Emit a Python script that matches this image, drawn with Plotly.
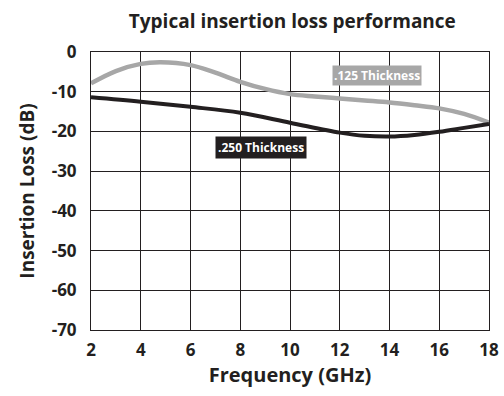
import plotly.graph_objects as go

freq = [2, 3, 4, 4.8, 6, 7, 8, 9, 10, 11, 12, 13, 14, 15, 16, 17, 18]
loss_125 = [-7.9, -4.8, -3.0, -2.6, -3.3, -5.2, -7.5, -9.3, -10.6, -11.2, -11.7, -12.2, -12.7, -13.4, -14.2, -15.6, -17.8]
freq_250 = [2, 4, 6, 8, 10, 12, 13, 14, 15, 16, 17, 18]
loss_250 = [-11.4, -12.5, -13.8, -15.3, -17.8, -20.3, -21.1, -21.3, -20.9, -20.1, -19.1, -18.1]
x_ticks = [2, 4, 6, 8, 10, 12, 14, 16, 18]
y_ticks = [0, -10, -20, -30, -40, -50, -60, -70]

FONT = "Open Sans"
INK = "#231f20"

fig = go.Figure()
fig.add_trace(go.Scatter(x=freq, y=loss_125, mode="lines",
                         line=dict(color="#a7a7a7", width=4.5, shape="spline", smoothing=1.0),
                         hoverinfo="skip", showlegend=False))
fig.add_trace(go.Scatter(x=freq_250, y=loss_250, mode="lines",
                         line=dict(color=INK, width=4, shape="spline", smoothing=1.0),
                         hoverinfo="skip", showlegend=False))

fig.add_annotation(x=13.5, y=-5.8, text="<b>.125 Thickness</b>", showarrow=False,
                   bgcolor="#a7a7a7", font=dict(color="white", size=12, family=FONT),
                   borderpad=1)
fig.add_annotation(x=8.83, y=-24.1, text="<b>.250 Thickness</b>", showarrow=False,
                   bgcolor=INK, font=dict(color="white", size=12, family=FONT),
                   borderpad=2)

fig.update_layout(
    width=504, height=396,
    margin=dict(l=91, r=15, t=52, b=66),
    paper_bgcolor="white", plot_bgcolor="white",
    font=dict(family=FONT, color=INK),
    title=dict(text="<b>Typical insertion loss performance</b>", x=0.58, xanchor="center",
               y=0.945, yanchor="middle", font=dict(size=19, family=FONT, color=INK)),
)
fig.update_xaxes(range=[2, 18], tickvals=x_ticks, ticktext=[f"<b>{v}</b>" for v in x_ticks],
                 showgrid=True, gridcolor=INK, gridwidth=1, automargin=False,
                 showline=True, linecolor=INK, linewidth=1, mirror=True,
                 zeroline=False, ticks="", tickfont=dict(size=17, family=FONT, color=INK),
                 ticklabelstandoff=5,
                 title=dict(text="<b>Frequency (GHz)</b>", font=dict(size=20, family=FONT, color=INK), standoff=4))
fig.update_yaxes(range=[-70, 0], tickvals=y_ticks, ticktext=[f"<b>{v}</b>" for v in y_ticks],
                 showgrid=True, gridcolor=INK, gridwidth=1, automargin=False,
                 showline=True, linecolor=INK, linewidth=1, mirror=True,
                 zeroline=False, ticks="", tickfont=dict(size=17, family=FONT, color=INK),
                 ticklabelstandoff=10,
                 title=dict(text="<b>Insertion Loss (dB)</b>", font=dict(size=19, family=FONT, color=INK), standoff=12))

fig.write_html("out.html", config={"displayModeBar": False},
               post_script="document.body.style.margin='0';document.body.style.overflow='hidden';")
